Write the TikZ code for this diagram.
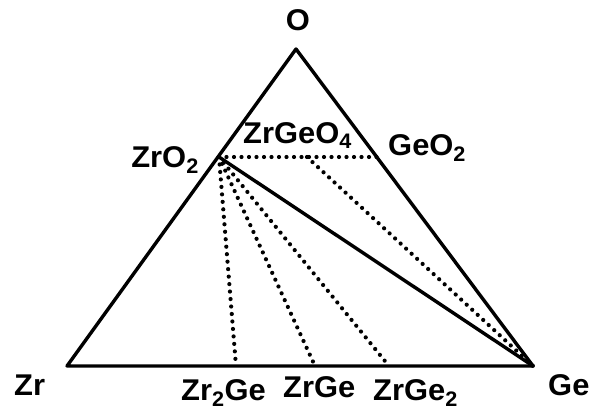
\documentclass[tikz,border=0pt]{standalone}
\usepackage{fontspec}
\setmainfont{Liberation Sans}
\begin{document}
\begin{tikzpicture}[x=1pt,y=1pt,
  edge/.style={line width=3.4pt,line join=round},
  tie/.style={line width=4.2pt,line cap=round,dash pattern=on 0pt off 7.5pt},
  lbl/.style={inner sep=0pt,font=\fontsize{30}{30}\selectfont\bfseries,xscale=1.03}]
\useasboundingbox (0,0) rectangle (589,-412);
\coordinate (Zr) at (67,-366);
\coordinate (Ge) at (533,-366);
\coordinate (O) at (296,-49);
\coordinate (ZrO2) at (219,-157);
\coordinate (GeO2) at (377,-157);
\coordinate (ZrGeO4) at (307,-157);
\coordinate (Zr2Ge) at (236,-366);
\coordinate (ZrGe) at (315,-366);
\coordinate (ZrGe2) at (389,-366);
\draw[tie] (ZrO2) -- (GeO2);
\draw[tie] (ZrGeO4) -- (Ge);
\draw[tie] (ZrO2) -- (Zr2Ge);
\draw[tie] (ZrO2) -- (ZrGe);
\draw[tie] (ZrO2) -- (ZrGe2);
\draw[edge] (Zr) -- (O) -- (Ge) -- cycle;
\draw[edge] (ZrO2) -- (Ge);
\node[lbl,anchor=base] (tO) at (298,-31) {O};
\node[lbl,anchor=base east] (tZrO2) at (199,-167) {ZrO\textsubscript{2}};
\node[lbl,anchor=base west] (tZrGeO4) at (243,-143) {ZrGeO\textsubscript{4}};
\node[lbl,anchor=base west] (tGeO2) at (388,-155) {GeO\textsubscript{2}};
\node[lbl,anchor=base west] (tZr) at (14,-395) {Zr};
\node[lbl,anchor=base west] (tZr2Ge) at (181,-400) {Zr\textsubscript{2}Ge};
\node[lbl,anchor=base west] (tZrGe) at (283,-397) {ZrGe};
\node[lbl,anchor=base west] (tZrGe2) at (373,-400) {ZrGe\textsubscript{2}};
\node[lbl,anchor=base west] (tGe) at (548,-395) {Ge};
\end{tikzpicture}
\end{document}
